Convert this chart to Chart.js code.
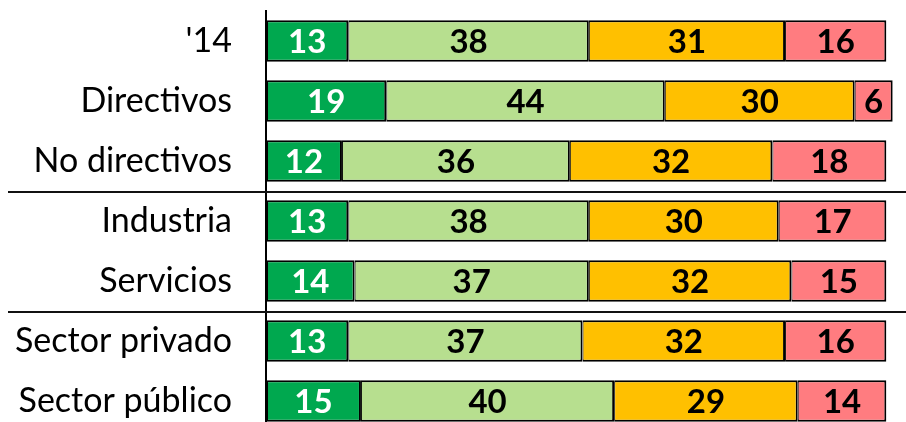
<!DOCTYPE html>
<html lang="es">
<head>
<meta charset="utf-8">
<title>Valoración por colectivo</title>
<script src="https://cdn.jsdelivr.net/npm/chart.js@4/dist/chart.umd.min.js"></script>
<style>
  html, body { margin: 0; padding: 0; background: #fff; overflow: hidden; }
  #wrap { width: 906px; height: 422px; overflow: hidden; }
  canvas { display: block; }
</style>
</head>
<body>
<div id="wrap"><canvas id="grafico" width="906" height="440"></canvas></div>
<script>
// Colectivos (eje vertical)
const categorias = ["'14", "Directivos", "No directivos", "Industria", "Servicios", "Sector privado", "Sector público"];

// Porcentajes de cada respuesta por colectivo
const muyBuena = [13, 19, 12, 13, 14, 13, 15];
const buena    = [38, 44, 36, 38, 37, 37, 40];
const mala     = [31, 30, 32, 30, 32, 32, 29];
const muyMala  = [16,  6, 18, 17, 15, 16, 14];

// Índices tras los que se separan los bloques de colectivos
const cortesDeBloque = [2, 4];

const FUENTE = "Lato, 'Liberation Sans', sans-serif";

// Cifras centradas dentro de cada tramo de barra
const etiquetasValor = {
  id: 'etiquetasValor',
  afterDatasetsDraw(chart) {
    const ctx = chart.ctx;
    ctx.save();
    ctx.font = "bold 33px " + FUENTE;
    ctx.textAlign = 'center';
    ctx.textBaseline = 'middle';
    chart.data.datasets.forEach((ds, di) => {
      const meta = chart.getDatasetMeta(di);
      meta.data.forEach((bar, i) => {
        const p = bar.getProps(['x', 'y', 'base'], true);
        ctx.fillStyle = ds.colorTexto;
        ctx.fillText(String(ds.data[i]), (p.x + p.base) / 2, p.y + 1);
      });
    });
    ctx.restore();
  }
};

// Líneas horizontales que separan los bloques
const separadores = {
  id: 'separadores',
  afterDraw(chart) {
    const y = chart.scales.y;
    const ctx = chart.ctx;
    ctx.save();
    ctx.strokeStyle = '#111';
    ctx.lineWidth = 2;
    cortesDeBloque.forEach(i => {
      const py = Math.round((y.getPixelForValue(i) + y.getPixelForValue(i + 1)) / 2) + 1;
      ctx.beginPath();
      ctx.moveTo(8, py);
      ctx.lineTo(chart.width, py);
      ctx.stroke();
    });
    ctx.restore();
  }
};

const comun = { borderColor: '#000', borderSkipped: false, barPercentage: 0.69, categoryPercentage: 1 };

new Chart(document.getElementById('grafico'), {
  type: 'bar',
  data: {
    labels: categorias,
    datasets: [
      Object.assign({ label: 'Muy buena', data: muyBuena, backgroundColor: '#00A84F', colorTexto: '#fff',
        borderWidth: { top: 2, bottom: 2, left: 2, right: 2 } }, comun),
      Object.assign({ label: 'Buena', data: buena, backgroundColor: '#B7DF8F', colorTexto: '#000',
        borderWidth: { top: 2, bottom: 2, left: 1, right: 2 } }, comun),
      Object.assign({ label: 'Mala', data: mala, backgroundColor: '#FFC000', colorTexto: '#000',
        borderWidth: { top: 2, bottom: 2, left: 1, right: 2 } }, comun),
      Object.assign({ label: 'Muy mala', data: muyMala, backgroundColor: '#FF7C80', colorTexto: '#000',
        borderWidth: { top: 2, bottom: 2, left: 1, right: 2 } }, comun)
    ]
  },
  options: {
    indexAxis: 'y',
    responsive: false,
    animation: false,
    devicePixelRatio: 1,
    layout: { padding: { left: 0, right: 7, top: 11, bottom: 9 } },
    plugins: { legend: { display: false }, tooltip: { enabled: false } },
    scales: {
      x: { stacked: true, min: 0, max: 100, display: false },
      y: {
        stacked: true,
        afterFit(scale) {
          scale.width = 266;
          scale.paddingTop = 0;
          scale.paddingBottom = 0;
        },
        grid: { display: true, drawOnChartArea: false, drawTicks: false },
        border: { display: true, color: '#000', width: 2 },
        ticks: { color: '#000', padding: 34, font: { family: FUENTE, size: 34 } }
      }
    }
  },
  plugins: [etiquetasValor, separadores]
});
</script>
</body>
</html>
